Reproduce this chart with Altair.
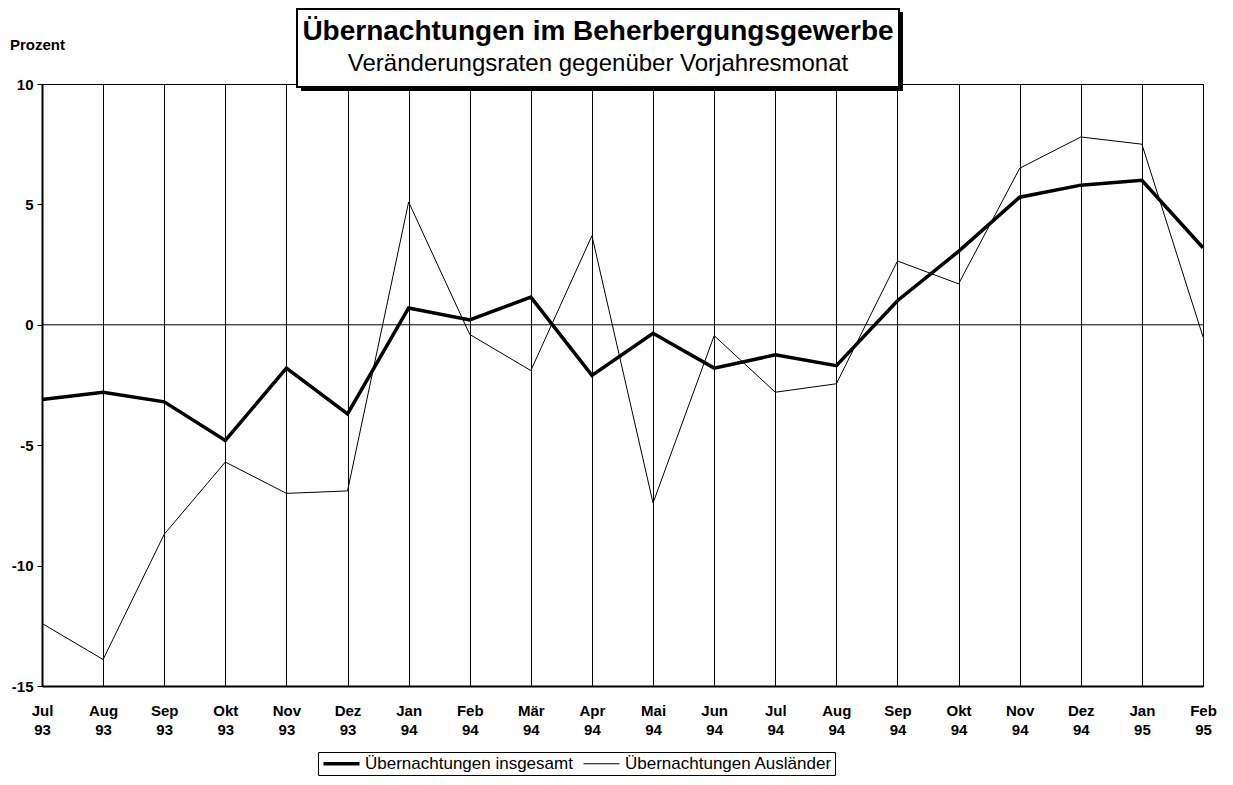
import altair as alt
import pandas as pd

# ---- data ----
months = ["Jul 93", "Aug 93", "Sep 93", "Okt 93", "Nov 93", "Dez 93",
          "Jan 94", "Feb 94", "Mär 94", "Apr 94", "Mai 94", "Jun 94",
          "Jul 94", "Aug 94", "Sep 94", "Okt 94", "Nov 94", "Dez 94",
          "Jan 95", "Feb 95"]
series_names = ["Übernachtungen insgesamt", "Übernachtungen Ausländer"]
insgesamt = [-3.1, -2.8, -3.2, -4.8, -1.8, -3.7, 0.7, 0.2, 1.15, -2.1,
             -0.35, -1.8, -1.25, -1.7, 1.0, 3.05, 5.3, 5.8, 6.0, 3.2]
auslaender = [-12.4, -13.9, -8.7, -5.7, -7.0, -6.9, 5.1, -0.4, -1.9, 3.7,
              -7.4, -0.45, -2.8, -2.45, 2.65, 1.7, 6.5, 7.8, 7.5, -0.5]
y_ticks = [-15, -10, -5, 0, 5, 10]
zero_line = [0]
title_text = "Übernachtungen im Beherbergungsgewerbe"
subtitle_text = "Veränderungsraten gegenüber Vorjahresmonat"
y_title = "Prozent"

rows = []
for name, vals in zip(series_names, [insgesamt, auslaender]):
    for m, v in zip(months, vals):
        rows.append({"Monat": m, "Serie": name, "Wert": v})
df = pd.DataFrame(rows)

FONT = "Liberation Sans"
W, H = 1161, 602

x_enc = alt.X(
    "Monat:O", sort=months,
    scale=alt.Scale(type="point", padding=0),
    axis=alt.Axis(
        title=None, labelAngle=0, labelExpr="split(datum.label, ' ')",
        grid=True, gridColor="black", gridOpacity=1, gridWidth=1,
        ticks=False, domain=True, domainColor="black", domainWidth=2,
        labelFont=FONT, labelFontSize=15, labelFontWeight="bold",
        labelColor="black", labelPadding=17, labelLineHeight=19,
        labelOverlap=False,
    ),
)
y_scale = alt.Scale(domain=[y_ticks[0], y_ticks[-1]], nice=False, zero=False)
y_axis = alt.Axis(
    title=None, values=y_ticks, grid=False, tickSize=5,
    tickColor="black", tickWidth=1, domainColor="black", domainWidth=2,
    labelFont=FONT, labelFontSize=15, labelFontWeight="bold",
    labelColor="black", labelPadding=4, labelExpr="datum.value + ''",
)
y_enc = alt.Y("Wert:Q", scale=y_scale, axis=y_axis)

zero_rule = alt.Chart(pd.DataFrame({"Wert": zero_line})).mark_rule(
    color="black", strokeWidth=1
).encode(y=y_enc)

lines = alt.Chart(df).mark_line(color="black").encode(
    x=x_enc,
    y=y_enc,
    strokeWidth=alt.StrokeWidth(
        "Serie:N",
        scale=alt.Scale(domain=series_names, range=[3.5, 1]),
        legend=alt.Legend(
            title=None, orient="none", legendX=276, legendY=668,
            direction="horizontal", strokeColor="black", fillColor="white",
            padding=3, symbolType="M-1,0H5", symbolSize=144,
            symbolStrokeColor="black", symbolFillColor="transparent",
            labelFont=FONT, labelFontSize=17,
            labelColor="black", labelLimit=400, labelOffset=27,
            columnPadding=8,
        ),
    ),
)

one = pd.DataFrame({"k": [0]})
shadow = alt.Chart(one).mark_rect(color="black").encode(
    x=alt.value(259), x2=alt.value(861), y=alt.value(-72), y2=alt.value(7)
)
box = alt.Chart(one).mark_rect(fill="white", stroke="black", strokeWidth=2).encode(
    x=alt.value(255), x2=alt.value(857), y=alt.value(-75), y2=alt.value(3)
)
title = alt.Chart(one).mark_text(
    text=title_text, font=FONT, fontSize=28, fontWeight="bold",
    color="black", align="center", baseline="alphabetic",
).encode(x=alt.value(556), y=alt.value(-44))
subtitle = alt.Chart(one).mark_text(
    text=subtitle_text, font=FONT, fontSize=24, color="black",
    align="center", baseline="alphabetic",
).encode(x=alt.value(556), y=alt.value(-13))
ylab = alt.Chart(one).mark_text(
    text=y_title, font=FONT, fontSize=15, fontWeight="bold",
    color="black", align="left", baseline="alphabetic",
).encode(x=alt.value(-32), y=alt.value(-34))

chart = alt.layer(zero_rule, lines, shadow, box, title, subtitle, ylab).properties(
    width=W, height=H,
    autosize=alt.AutoSizeParams(type="none"),
    padding={"left": 34, "top": 76, "right": 20, "bottom": 91},
    background="white",
).configure_view(stroke="black", strokeWidth=1)

chart.save("out.html", embed_options={"renderer": "svg", "actions": False})
